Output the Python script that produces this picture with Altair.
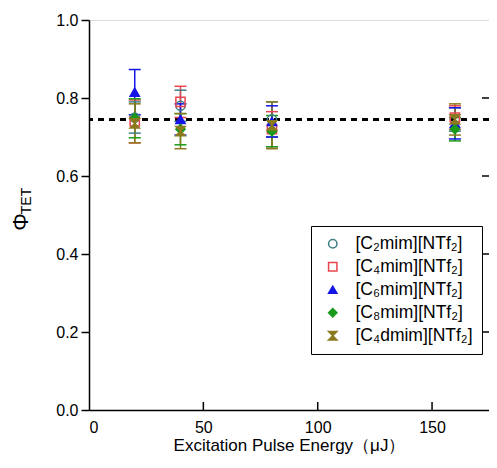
import altair as alt
import pandas as pd

# ---- data ----
energy = [20, 40, 80, 160]
series_names = ["[C₂mim][NTf₂]", "[C₄mim][NTf₂]", "[C₆mim][NTf₂]", "[C₈mim][NTf₂]", "[C₄dmim][NTf₂]"]
phi_c2 = [0.750, 0.780, 0.745, 0.745]
err_c2 = [0.040, 0.040, 0.045, 0.030]
phi_c4 = [0.740, 0.790, 0.720, 0.750]
err_c4 = [0.055, 0.040, 0.045, 0.030]
phi_c6 = [0.815, 0.745, 0.740, 0.735]
err_c6 = [0.058, 0.040, 0.040, 0.040]
phi_c8 = [0.748, 0.720, 0.715, 0.720]
err_c8 = [0.050, 0.040, 0.040, 0.030]
phi_c4d = [0.735, 0.715, 0.730, 0.745]
err_c4d = [0.050, 0.045, 0.060, 0.040]
mean_line = [0.745]
x_ticks = [0, 50, 100, 150]
y_ticks = [0.0, 0.2, 0.4, 0.6, 0.8, 1.0]

colors = ["#3d7f86", "#e8454f", "#1515e6", "#1a9a1a", "#8a7a1e"]
fills = ["transparent", "transparent", "#1515e6", "#1a9a1a", "#8a7a1e"]
shapes = ["circle", "square", "triangle-up", "diamond", "M-1,-1L1,-1L-1,1L1,1Z"]

vals = [phi_c2, phi_c4, phi_c6, phi_c8, phi_c4d]
errs = [err_c2, err_c4, err_c6, err_c8, err_c4d]
rows = []
for name, v, e in zip(series_names, vals, errs):
    for xi, vi, ei in zip(energy, v, e):
        rows.append({"x": xi, "series": name, "phi": vi, "lo": vi - ei, "hi": vi + ei})
df = pd.DataFrame(rows)

W, H = 400, 390
FONT = "Liberation Sans"
xs = alt.Scale(domain=[0, 174.9], nice=False, zero=False)
ys = alt.Scale(domain=[0, 1], nice=False)
sc_stroke = alt.Scale(domain=series_names, range=colors)

base = alt.Chart(df)

bars = base.mark_rule(strokeWidth=1.5).encode(
    x=alt.X("x:Q", scale=xs),
    y=alt.Y("lo:Q", scale=ys),
    y2="hi:Q",
    stroke=alt.Stroke("series:N", scale=sc_stroke),
)
cap_lo = base.mark_point(shape="M-1,0L1,0", size=144, strokeWidth=1.5, opacity=1).encode(
    x=alt.X("x:Q", scale=xs), y=alt.Y("lo:Q", scale=ys),
    stroke=alt.Stroke("series:N", scale=sc_stroke),
)
cap_hi = base.mark_point(shape="M-1,0L1,0", size=144, strokeWidth=1.5, opacity=1).encode(
    x=alt.X("x:Q", scale=xs), y=alt.Y("hi:Q", scale=ys),
    stroke=alt.Stroke("series:N", scale=sc_stroke),
)

legend = alt.Legend(
    title=None, orient="none", legendX=222, legendY=206,
    strokeColor="black", fillColor="white", padding=9,
    labelFont=FONT, labelFontSize=17.5, labelColor="black",
    symbolSize=70, symbolStrokeWidth=1.5, rowPadding=4, labelOffset=14,
    symbolOffset=4, labelLimit=300,
)
points = base.mark_point(size=85, strokeWidth=1.5, opacity=1).encode(
    x=alt.X("x:Q", scale=xs, axis=alt.Axis(
        values=x_ticks, title="Excitation Pulse Energy（μJ）", grid=False,
        labelFont=FONT, labelFontSize=16, labelColor="black", labelPadding=9,
        titleFont=FONT, titleFontSize=17, titleFontWeight="normal", titleColor="black",
        titlePadding=2, tickSize=0, domainColor="black", domainWidth=1.5)),
    y=alt.Y("phi:Q", scale=ys, axis=alt.Axis(
        values=y_ticks, format=".1f", title=None, grid=False,
        labelFont=FONT, labelFontSize=16, labelColor="black", labelPadding=3,
        tickSize=8, tickColor="black", tickWidth=1.5, domainColor="black", domainWidth=1.5)),
    shape=alt.Shape("series:N", scale=alt.Scale(domain=series_names, range=shapes), legend=legend),
    stroke=alt.Stroke("series:N", scale=sc_stroke, legend=legend),
    fill=alt.Fill("series:N", scale=alt.Scale(domain=series_names, range=fills), legend=legend),
)

dash = alt.Chart(pd.DataFrame({"y": mean_line})).mark_rule(
    color="black", strokeWidth=3, strokeDash=[6, 5]
).encode(y=alt.Y("y:Q", scale=ys))

bt = pd.DataFrame({"t": [50, 100, 150]})
bottom_ticks = alt.Chart(bt).mark_rule(color="black", strokeWidth=1.5).encode(
    x=alt.X("t:Q", scale=xs), y=alt.value(H), y2=alt.value(H - 8))
rt = pd.DataFrame({"t": [0.2, 0.4, 0.6, 0.8]})
right_ticks = alt.Chart(rt).mark_rule(color="black", strokeWidth=1.5).encode(
    y=alt.Y("t:Q", scale=ys), x=alt.value(W - 7), x2=alt.value(W))

ttl = alt.Chart(pd.DataFrame({"s": ["Φ"]})).mark_text(
    angle=270, font=FONT, fontSize=22, color="black", align="center", baseline="middle"
).encode(text="s:N", x=alt.value(-68), y=alt.value(202))
ttl_sub = alt.Chart(pd.DataFrame({"s": ["TET"]})).mark_text(
    angle=270, font=FONT, fontSize=14, color="black", align="center", baseline="middle"
).encode(text="s:N", x=alt.value(-62), y=alt.value(181))

chart = alt.layer(
    dash, bars, cap_lo, cap_hi, points, bottom_ticks, right_ticks, ttl, ttl_sub
).properties(
    width=W, height=H,
    autosize=alt.AutoSizeParams(type="none"),
    padding={"left": 81, "top": 12, "right": 0, "bottom": 50},
).configure_view(stroke="black", strokeWidth=1.5).configure(background="white")

chart.save("out.html", embed_options={"renderer": "svg", "actions": False})
